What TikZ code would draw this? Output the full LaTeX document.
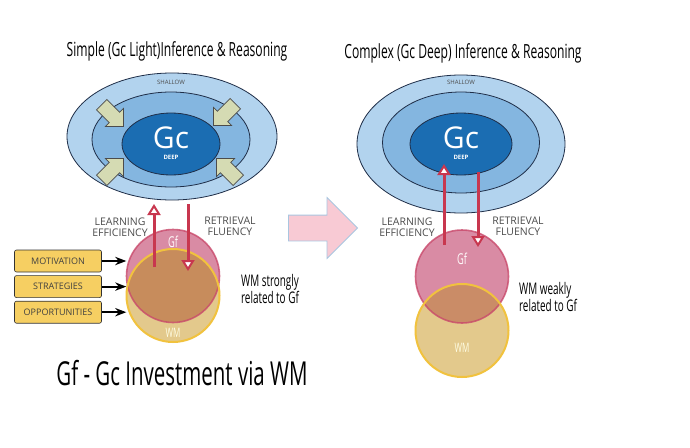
\documentclass[tikz,border=0pt]{standalone}
\usepackage{fontspec}
\setmainfont{Open Sans}
\newfontfamily\handfont[FakeStretch=0.62]{Open Sans}
\usetikzlibrary{arrows.meta,positioning,shapes.geometric,shapes.arrows}

\definecolor{shallowblue}{HTML}{B2D3EE}
\definecolor{midblue}{HTML}{84B6E0}
\definecolor{deepblue}{HTML}{1B6DB2}
\definecolor{rimnavy}{HTML}{1F2E48}
\definecolor{gfpink}{HTML}{D98BA4}
\definecolor{gfrim}{HTML}{C9496B}
\definecolor{wmtan}{HTML}{E3C98C}
\definecolor{wmrim}{HTML}{F1C23E}
\definecolor{mixbrown}{HTML}{C78C5C}
\definecolor{linkred}{HTML}{C8374F}
\definecolor{boxyellow}{HTML}{F6CF62}
\definecolor{pushkhaki}{HTML}{D5DBB3}
\definecolor{bigpink}{HTML}{F8CAD4}
\definecolor{bigrim}{HTML}{A9C6E0}
\definecolor{labelgray}{HTML}{4D4D4D}

\begin{document}
\begin{tikzpicture}[
  x=1pt,y=-1pt,
  >=Stealth,
  every node/.style={inner sep=0pt},
  ring/.style={ellipse,draw=rimnavy,line width=0.8pt},
  blob/.style={circle,minimum size=93pt},
  push/.style={single arrow,draw=gray!60!black,fill=pushkhaki,line width=0.7pt,
    inner sep=7pt,minimum height=31pt,single arrow head extend=5.5pt},
  factor/.style={draw=black!80,fill=boxyellow,rounded corners=2pt,line width=0.6pt,
    minimum width=87pt,minimum height=22pt,font=\fontsize{9}{10}\selectfont\color{black!75}},
  caption/.style={font=\fontsize{19.5}{22}\handfont},
  note/.style={align=left,font=\fontsize{16}{14}\handfont},
  tag/.style={align=center,font=\fontsize{10.5}{11}\selectfont\color{labelgray}},
  link/.style={line width=3pt,draw=linkred,
    -{Triangle[width=13pt,length=11pt,fill=white,line width=2pt]}},
  feed/.style={->,line width=1.8pt}
]
  \fill[white] (0,0) rectangle (690,447);
  \useasboundingbox (0,0) rectangle (690,447);

  % left: simple
  \node[caption] (titleL) at (177,51) {Simple (Gc Light)Inference \& Reasoning};
  \node[ring,fill=shallowblue,minimum width=210pt,minimum height=127pt] (shallowL) at (172,136.5) {};
  \node[ring,fill=midblue,minimum width=158pt,minimum height=95pt] (midL) at (171,139.5) {};
  \node[ring,fill=deepblue,minimum width=98pt,minimum height=62pt] (deepL) at (171,144) {};
  \node[font=\fontsize{30}{30}\selectfont\color{white}] (gcL) at (171,138) {Gc};
  \node[font=\fontsize{6}{6}\bfseries\color{white}] (deepTxtL) at (171,157) {DEEP};
  \node[font=\fontsize{6}{6}\selectfont\color{labelgray}] (shallowTxtL) at (171,82) {SHALLOW};

  \node[push,rotate=-45] (pushA) at (110,113) {};
  \node[push,rotate=-135] (pushB) at (227,112) {};
  \node[push,rotate=45] (pushC) at (110,172) {};
  \node[push,rotate=135] (pushD) at (230,172) {};

  \node[blob,fill=gfpink] (gfL) at (173,276) {};
  \node[blob,fill=wmtan] (wmL) at (173,295.5) {};
  \begin{scope}
    \clip (gfL.center) circle[radius=46.5pt];
    \fill[mixbrown] (wmL.center) circle[radius=46.5pt];
  \end{scope}
  \node[blob,draw=gfrim,line width=1.6pt,draw opacity=0.8] at (gfL) {};
  \node[blob,draw=wmrim,line width=2pt] at (wmL) {};
  \node[font=\fontsize{15}{15}\handfont\color{white!92!pink}] (gfTxtL) at (173,242) {Gf};
  \node[font=\fontsize{13}{13}\handfont\color{white!90!yellow}] (wmTxtL) at (173,333) {WM};

  \coordinate (learnL) at (154,267);
  \coordinate (learnTopL) at (154,204);
  \coordinate (fetchL) at (188,204);
  \coordinate (fetchEndL) at (188,271);
  \draw[link] (learnL) -- (learnTopL);
  \draw[link] (fetchL) -- (fetchEndL);
  \node[tag] (effL) at (120,227) {LEARNING\\EFFICIENCY};
  \node[tag] (fluL) at (230,226) {RETRIEVAL\\FLUENCY};

  \node[factor] (motiv) at (58,261) {MOTIVATION};
  \node[factor,below=3pt of motiv] (strat) {STRATEGIES};
  \node[factor,below=3pt of strat] (oppor) {OPPORTUNITIES};
  \draw[feed] (motiv.east) -- (motiv.east -| wmL.west);
  \draw[feed] (strat.east) -- (strat.east -| wmL.west);
  \draw[feed] (oppor.east) -- (oppor.east -| wmL.west);

  \node[note] (strongly) at (270,289) {WM strongly\\related to Gf};
  \node[font=\fontsize{33}{36}\handfont] (invest) at (182,373) {Gf - Gc Investment via WM};

  % middle arrow
  \node[single arrow,fill=bigpink,draw=bigrim,line width=0.8pt,inner sep=12.5pt,
        minimum height=69pt,single arrow head extend=17.5pt] (shift) at (316.5,228) {};

  % right: complex
  \node[caption] (titleR) at (463,53) {Complex (Gc Deep) Inference \& Reasoning};
  \node[ring,fill=shallowblue,minimum width=208pt,minimum height=138pt] (shallowR) at (461,144) {};
  \node[ring,fill=midblue,minimum width=157pt,minimum height=101pt] (midR) at (461,142.5) {};
  \node[ring,fill=deepblue,minimum width=102pt,minimum height=62pt] (deepR) at (461,144) {};
  \node[font=\fontsize{30}{30}\selectfont\color{white}] (gcR) at (461,138) {Gc};
  \node[font=\fontsize{6}{6}\bfseries\color{white}] (deepTxtR) at (461,157) {DEEP};
  \node[font=\fontsize{6}{6}\selectfont\color{labelgray}] (shallowTxtR) at (461,82) {SHALLOW};

  \node[blob,fill=gfpink] (gfR) at (462,276.5) {};
  \node[blob,fill=wmtan] (wmR) at (462,330.5) {};
  \begin{scope}
    \clip (gfR.center) circle[radius=46.5pt];
    \fill[mixbrown!85!gfpink] (wmR.center) circle[radius=46.5pt];
  \end{scope}
  \node[blob,draw=gfrim,line width=1.6pt,draw opacity=0.8] at (gfR) {};
  \node[blob,draw=wmrim,line width=2pt] at (wmR) {};
  \node[font=\fontsize{15}{15}\handfont\color{white!92!pink}] (gfTxtR) at (462,259) {Gf};
  \node[font=\fontsize{13}{13}\handfont\color{white!90!yellow}] (wmTxtR) at (462,348) {WM};

  \coordinate (learnR) at (444,245);
  \coordinate (learnTopR) at (444,164);
  \coordinate (fetchR) at (478,172);
  \coordinate (fetchEndR) at (478,247);
  \draw[link] (learnR) -- (learnTopR);
  \draw[link] (fetchR) -- (fetchEndR);
  \node[tag] (effR) at (407,227) {LEARNING\\EFFICIENCY};
  \node[tag] (fluR) at (518,226) {RETRIEVAL\\FLUENCY};

  \node[note] (weakly) at (548,297) {WM weakly\\related to Gf};
\end{tikzpicture}
\end{document}
